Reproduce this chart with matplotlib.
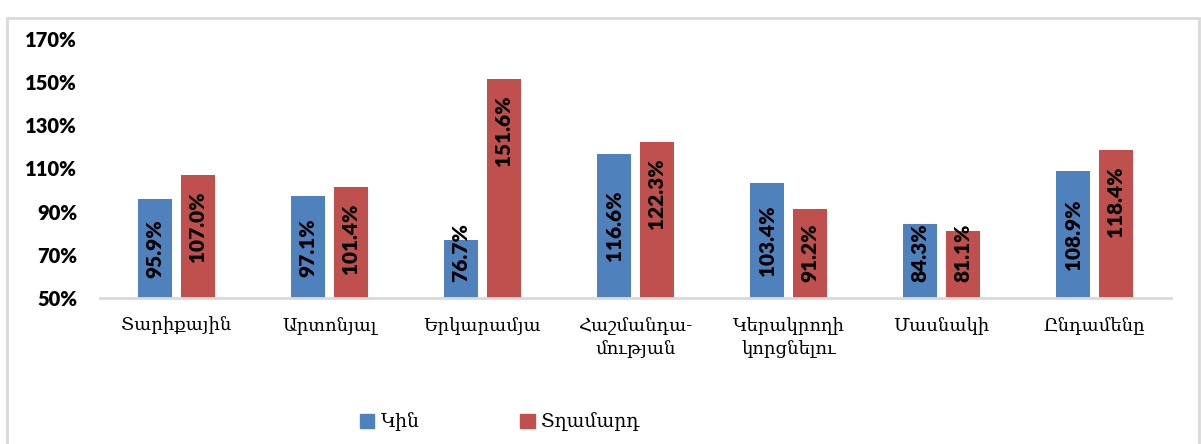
import numpy as np
import matplotlib.pyplot as plt
from matplotlib.patches import Rectangle, Patch

categories = ['Տարիքային', 'Արտոնյալ', 'Երկարամյա', 'Հաշմանդա-\nմության',
              'Կերակրողի\nկորցնելու', 'Մասնակի', 'Ընդամենը']
women = [95.9, 97.1, 76.7, 116.6, 103.4, 84.3, 108.9]
men = [107.0, 101.4, 151.6, 122.3, 91.2, 81.1, 118.4]
series_names = ['Կին', 'Տղամարդ']
yticks = [50, 70, 90, 110, 130, 150, 170]

BLUE = '#4F81BD'
RED = '#C0504D'
ARM_FONT = ['DejaVu Serif', 'DejaVu Sans']
NUM_FONT = ['Lato', 'DejaVu Sans']

fig = plt.figure(figsize=(12.01, 4.44), dpi=100)
ax = fig.add_axes([0.0833, 0.3288, 0.8917, 0.5834])

x = np.arange(len(categories))
width = 0.222
gap = 0.058
bars_w = ax.bar(x - (width + gap) / 2, women, width, color=BLUE)
bars_m = ax.bar(x + (width + gap) / 2, men, width, color=RED)

ax.set_xlim(-0.5, len(categories) - 0.5)
ax.set_ylim(50, 170)
ax.set_yticks(yticks)
ax.set_yticklabels([f'{t}%' for t in yticks], family=NUM_FONT,
                   fontweight='heavy', fontsize=14.5)
ax.set_xticks(x)
ax.set_xticklabels(categories, family=ARM_FONT, fontsize=13, linespacing=1.3)
ax.tick_params(axis='y', length=0, pad=16.5)
ax.tick_params(axis='x', length=0, pad=14)
for s in ['top', 'right', 'left']:
    ax.spines[s].set_visible(False)
ax.spines['bottom'].set_color('#D9D9D9')
ax.spines['bottom'].set_linewidth(2)

# data labels: blue centred, red near the top, both kept off the axis
lbl = dict(rotation=90, ha='center', family=NUM_FONT, fontweight='heavy',
           fontsize=15, color='black')
for rect, v in zip(bars_w, women):
    cx = rect.get_x() + rect.get_width() / 2
    mid = (50 + v) / 2
    if mid < 71.3:
        ax.text(cx, 57.5, f'{v:.1f}%', va='bottom', **lbl)
    else:
        ax.text(cx, mid, f'{v:.1f}%', va='center', **lbl)
for rect, v in zip(bars_m, men):
    cx = rect.get_x() + rect.get_width() / 2
    if v < 93:
        ax.text(cx, 57.5, f'{v:.1f}%', va='bottom', **lbl)
    else:
        ax.text(cx, v - 7.5, f'{v:.1f}%', va='top', **lbl)

handles = [Patch(color=BLUE), Patch(color=RED)]
fig.legend(handles, series_names, loc='center', bbox_to_anchor=(0.416, 0.05),
           ncol=2, frameon=False, prop={'family': ARM_FONT, 'size': 13.5},
           handlelength=0.75, handleheight=0.75, handletextpad=0.35,
           columnspacing=5.4)

fig.patches.append(Rectangle((7 / 1201, -0.05), 1192 / 1201, 1.03 - 9 / 444,
                             transform=fig.transFigure, fill=False,
                             edgecolor='#D9D9D9', linewidth=2))

fig.savefig('out.png', dpi=100)
